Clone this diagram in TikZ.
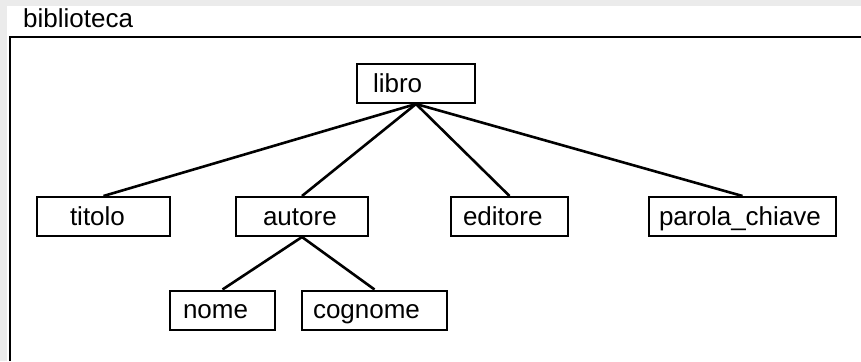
\documentclass[tikz,border=0pt]{standalone}
\usepackage{fontspec}
\setmainfont{Liberation Sans}
\usetikzlibrary{positioning}
\usetikzlibrary{calc}
\definecolor{paneColor}{RGB}{235,235,235}

\begin{document}
\begin{tikzpicture}[x=1pt,y=-1pt,
  every node/.style={font=\fontsize{26}{29}\selectfont},
  elem/.style={draw, line width=2pt, minimum height=39pt, inner ysep=0pt,
    text height=22pt, text depth=5pt, align=left},
  link/.style={line width=2.6pt},
]
\useasboundingbox (0,0) rectangle (861,361);
\fill [paneColor] (0,0) rectangle (861,361);
\fill [white] (7,6) rectangle (861,361);
\draw [line width=2.5pt] (10,361) -- (10,37) -- (861,37);
\node [anchor=base west, inner sep=0pt] (bib) at (23,28) {biblioteca};

\node [elem, inner xsep=16pt, text width=86pt] (libro) at (416,83.5) {libro};
\node [elem, inner xsep=33pt, text width=67pt] (titolo) at (103.5,216.5) {titolo};
\node [elem, inner xsep=27pt, text width=78pt] (autore) at (302,216.5) {autore};
\node [elem, inner xsep=12pt, text width=93pt] (editore) at (509.5,216.5) {editore};
\node [elem, inner xsep=10pt, text width=167pt] (parola) at (742.5,216.5) {parola\_chiave};
\node [elem, inner xsep=13pt, text width=79pt] (nome) at (222.5,310) {nome};
\node [elem, inner xsep=11pt, text width=123pt] (cognome) at (374.5,310) {cognome};

\draw [link] (libro.south) -- (titolo.north);
\draw [link] (libro.south) -- (autore.north);
\draw [link] (libro.south) -- (editore.north);
\draw [link] (libro.south) -- (parola.north);
\draw [link] (autore.south) -- (nome.north);
\draw [link] (autore.south) -- (cognome.north);
\end{tikzpicture}
\end{document}
